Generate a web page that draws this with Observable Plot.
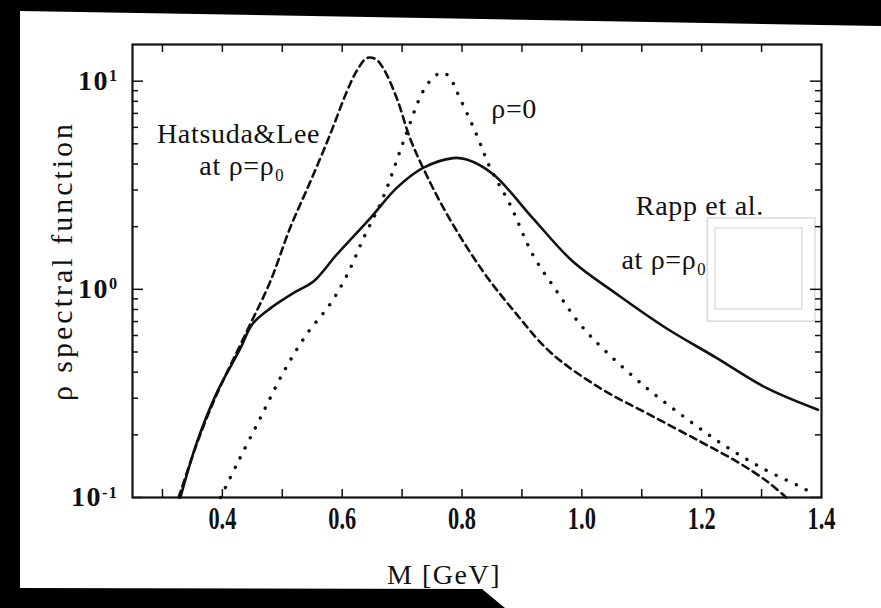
<!DOCTYPE html>
<html><head><meta charset="utf-8">
<script src="https://cdn.jsdelivr.net/npm/d3@7"></script>
<script src="https://cdn.jsdelivr.net/npm/@observablehq/plot@0.6"></script>
<style>
body{margin:0;background:#000;}
#wrap{position:relative;width:881px;height:608px;background:#000;overflow:hidden}
#paper{position:absolute;left:0;top:0;width:881px;height:608px;background:#fff;
 clip-path:polygon(20px 11px, 881px 26px, 881px 608px, 505px 608px, 482px 589px, 20px 588px);}
#chart{position:absolute;left:0;top:0}
#chart svg{background:transparent;overflow:visible}
</style>
</head><body>
<div id="wrap"><div id="paper"></div><div id="chart"></div></div>
<script>
// Rapp et al. at rho=rho0 (solid)
const rappM = [0.33,0.358,0.391,0.43,0.45,0.48,0.524,0.552,0.591,0.647,0.691,0.735,0.785,0.808,0.852,0.918,0.985,1.058,1.141,1.224,1.308,1.394];
const rappV = [0.1,0.186,0.32,0.52,0.68,0.81,0.98,1.09,1.47,2.2,3.07,3.83,4.27,4.2,3.57,2.2,1.36,0.95,0.65,0.47,0.336,0.264];
// Hatsuda & Lee at rho=rho0 (dashed)
const hlM = [0.327,0.36,0.39,0.441,0.48,0.513,0.547,0.58,0.608,0.625,0.641,0.655,0.668,0.691,0.713,0.735,0.775,0.835,0.891,0.947,1.03,1.113,1.197,1.26,1.31,1.341];
const hlV = [0.1,0.19,0.31,0.63,1.09,1.97,3.3,5.56,8.95,11.3,12.9,12.8,11.6,8.3,5.34,3.83,2.29,1.22,0.76,0.5,0.336,0.25,0.186,0.148,0.119,0.1];
// rho = 0 (dotted)
const r0M = [0.397,0.424,0.463,0.502,0.541,0.58,0.608,0.636,0.668,0.702,0.735,0.755,0.768,0.78,0.791,0.824,0.847,0.88,0.918,0.958,0.997,1.041,1.108,1.174,1.235,1.302,1.369,1.39];
const r0V = [0.1,0.144,0.24,0.4,0.61,0.85,1.17,1.77,2.75,5.1,8.95,10.6,11.0,10.4,8.95,5.56,3.83,2.56,1.47,0.98,0.68,0.5,0.336,0.24,0.18,0.138,0.111,0.103];

const xLabelTicks = [0.4,0.6,0.8,1.0,1.2,1.4];
const xMinorTicks = [0.3,0.4,0.5,0.6,0.7,0.8,0.9,1.0,1.1,1.2,1.3];
const yMajorTicks = [0.1,1,10];
const yMinorTicks = [0.2,0.3,0.4,0.5,0.6,0.7,0.8,0.9,2,3,4,5,6,7,8,9];
const yTickLabels = ["10^-1","10^0","10^1"];

const notes = [
  {M:0.427, v:5.6, t:"Hatsuda&Lee", a:"middle"},
  {M:0.433, v:3.9, t:"at ρ=ρ₀", a:"middle"},
  {M:0.887, v:7.33, t:"ρ=0", a:"middle"},
  {M:1.197, v:2.5, t:"Rapp et al.", a:"middle"},
  {M:1.066, v:1.39, t:"at ρ=ρ₀:", a:"start"}
];
// white patch (scan artifact) covering the right label
const patchOuter = [{x1:1.21, x2:1.39, y1:0.70, y2:2.19}];
const patchInner = [{x1:1.223, x2:1.368, y1:0.80, y2:1.96}];

const W = 881, H = 608, mL = 132, mR = 60, mT = 44, mB = 111;
const pw = W - mL - mR, ph = H - mT - mB;
const font = "Liberation Serif, Times New Roman, serif";

const rapp = rappM.map((m,i)=>({M:m, v:rappV[i]}));
const hl = hlM.map((m,i)=>({M:m, v:hlV[i]}));
const r0 = r0M.map((m,i)=>({M:m, v:r0V[i]}));

const plot = Plot.plot({
  width: W, height: H,
  marginLeft: mL, marginRight: mR, marginTop: mT, marginBottom: mB,
  style: {fontFamily: font, color: "#111", background: "transparent"},
  x: {domain: [0.25, 1.4]},
  y: {type: "log", domain: [0.1, 15]},
  marks: [
    Plot.line(rapp, {x:"M", y:"v", stroke:"#111", strokeWidth:2.6, curve:"catmull-rom"}),
    Plot.line(hl, {x:"M", y:"v", stroke:"#111", strokeWidth:2.6, strokeDasharray:"7,5", curve:"catmull-rom"}),
    Plot.line(r0, {x:"M", y:"v", stroke:"#111", strokeWidth:3.4, strokeDasharray:"0.1,11", strokeLinecap:"round", curve:"catmull-rom"}),
    Plot.text(notes.filter(d=>d.a==="middle"), {x:"M", y:"v", text:"t", textAnchor:"middle", fontSize:28, fill:"#111", className:"note"}),
    Plot.text(notes.filter(d=>d.a==="start"), {x:"M", y:"v", text:"t", textAnchor:"start", fontSize:28, fill:"#111", className:"note"}),
    Plot.rect(patchOuter, {x1:"x1", x2:"x2", y1:"y1", y2:"y2", fill:"#fff", stroke:"#c8c8c8", strokeWidth:1}),
    Plot.rect(patchInner, {x1:"x1", x2:"x2", y1:"y1", y2:"y2", fill:"none", stroke:"#d0d0d0", strokeWidth:1}),
    // inward ticks
    Plot.tickX(xMinorTicks, {x: d=>d, insetTop: ph - 8, stroke:"#111", strokeWidth:1.5}),
    Plot.tickX(xMinorTicks, {x: d=>d, insetBottom: ph - 8, stroke:"#111", strokeWidth:1.5}),
    Plot.tickY(yMajorTicks, {y: d=>d, insetRight: pw - 11, stroke:"#111", strokeWidth:1.5}),
    Plot.tickY(yMajorTicks, {y: d=>d, insetLeft: pw - 11, stroke:"#111", strokeWidth:1.5}),
    Plot.tickY(yMinorTicks, {y: d=>d, insetRight: pw - 6, stroke:"#111", strokeWidth:1.5}),
    Plot.tickY(yMinorTicks, {y: d=>d, insetLeft: pw - 6, stroke:"#111", strokeWidth:1.5}),
    Plot.frame({stroke:"#111", strokeWidth:2.2}),
    Plot.axisX(xLabelTicks, {tickSize:0, tickPadding:9, tickFormat: d3.format(".1f"), fontSize:32, fontWeight:"bold", label:null}),
    Plot.axisY(yMajorTicks, {tickSize:0, tickPadding:14, tickFormat: d => yTickLabels[yMajorTicks.indexOf(d)], fontSize:28, fontWeight:"bold", label:null}),
    Plot.text(["ρ spectral function"], {frameAnchor:"left", textAnchor:"middle", dx:-70, dy:-10, rotate:-90, fontSize:30, fill:"#111", className:"ylab"}),
    Plot.text(["M [GeV]"], {frameAnchor:"bottom", textAnchor:"middle", dx:-33, dy:86, fontSize:28, fill:"#111", className:"xlab"})
  ]
});
document.getElementById("chart").appendChild(plot);

// condensed bold tick digits like the original typesetting
d3.select(plot).selectAll('g[aria-label="x-axis tick label"] text').each(function(){
  const t = this.getAttribute("transform") || "";
  this.setAttribute("transform", t + " scale(0.7,1)");
});
d3.select(plot).selectAll('g[aria-label="y-axis tick label"] text').each(function(){
  const s = d3.select(this);
  const parts = s.text().split("^");
  if (parts.length === 2) {
    s.text(null);
    s.append("tspan").text(parts[0]);
    s.append("tspan").attr("dy","-0.55em").attr("font-size","58%").text(parts[1]);
  }
  s.attr("letter-spacing", "1.5");
});
d3.select(plot).selectAll('.note text').attr("letter-spacing", "0.7");
d3.select(plot).selectAll('.ylab text').attr("letter-spacing", "3");
d3.select(plot).selectAll('.xlab text').attr("letter-spacing", "1.5");
</script>
</body></html>
